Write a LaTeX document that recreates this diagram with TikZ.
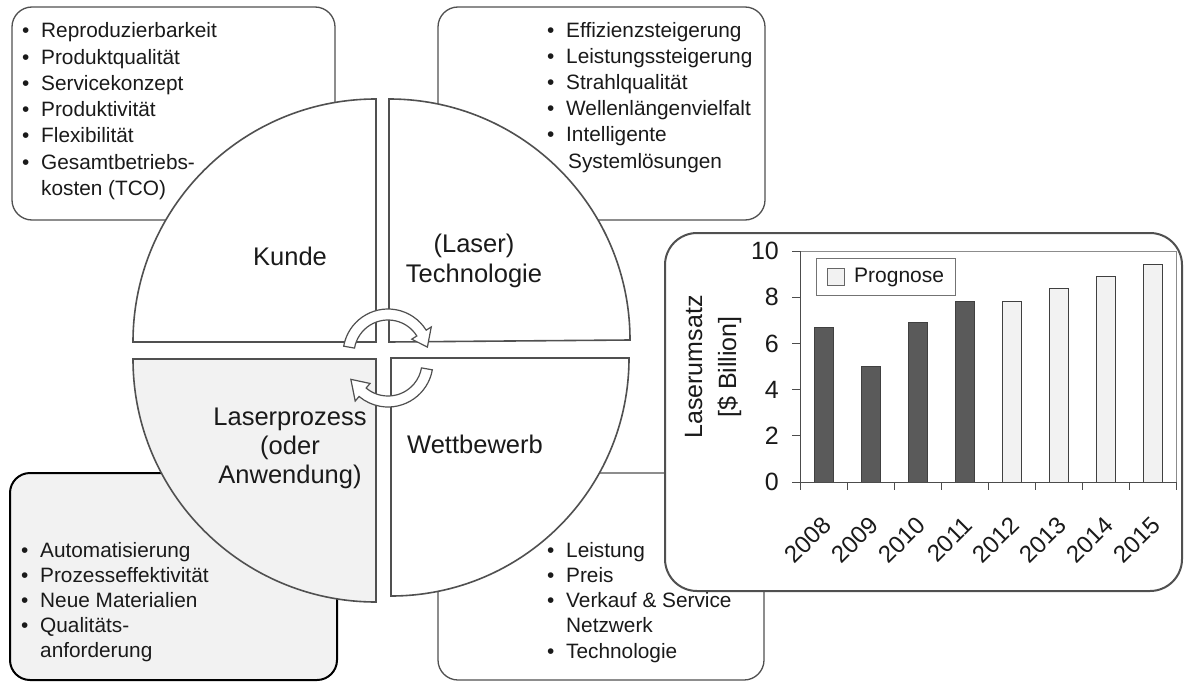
\documentclass[tikz,border=0pt]{standalone}
\usepackage{fontspec}
\setmainfont{Liberation Sans}
\usetikzlibrary{calc}
\definecolor{txt}{HTML}{1A1A1A}
\definecolor{lgray}{HTML}{F2F2F2}
\definecolor{dbar}{HTML}{5A5A5A}
\definecolor{edge}{HTML}{505050}
\newcommand\Bu{\makebox[19pt][l]{•}}
\newcommand\Co{\hspace*{19pt}}
\begin{document}
\begin{tikzpicture}[x=1pt,y=-1pt,
  box/.style={draw=edge, line width=1.3pt, rounded corners=20pt, fill=white},
  lst/.style={font=\fontsize{20.8}{26}\selectfont, text=txt, inner sep=0pt, anchor=base west},
  quad/.style={draw=edge, line width=1.6pt, line join=miter},
  qlabel/.style={font=\fontsize{25.5}{30}\selectfont, text=txt, inner sep=0pt, anchor=base},
  carrow/.style={draw=edge, line width=1.2pt, fill=white, line join=miter},
  chartbox/.style={draw=edge, line width=2pt, rounded corners=32pt, fill=white},
  darkbar/.style={draw=black!75, line width=0.9pt, fill=dbar},
  lightbar/.style={draw=black!75, line width=0.9pt, fill=lgray},
  axis/.style={draw=black!70, line width=1pt},
  clbl/.style={font=\fontsize{25}{30}\selectfont, text=txt, inner sep=0pt},
  yrlbl/.style={font=\fontsize{24}{28}\selectfont, text=txt, inner sep=0pt, rotate=45, anchor=east}
]
\useasboundingbox (0,0) rectangle (1196,682);
\fill[white] (0,0) rectangle (1196,682);

% ---------- boxes ----------
\path[box] (12,7) rectangle (335,220);
\path[box] (438,7) rectangle (765,220);
\path[box, fill=lgray, draw=black, line width=2pt] (10,473) rectangle (337,680);
\path[box] (438,473) rectangle (764,680);

% ---------- circle quadrants ----------
\path[quad, fill=white] (376,342) -- (133,342) arc[start angle=180, end angle=270, radius=243] -- cycle;
\path[quad, fill=white] (389,342) -- (389,99) arc[start angle=270, end angle=360, radius=241] -- cycle;
\path[quad, fill=lgray] (376,359) -- (376,602) arc[start angle=90, end angle=180, radius=243] -- cycle;
\path[quad, fill=white] (391,358) -- (629,358) arc[start angle=0, end angle=90, radius=238] -- cycle;

% ---------- quadrant labels ----------
\node[qlabel] (kunde) at (290,265) {Kunde};
\node[qlabel] (laser) at (474,252) {(Laser)};
\node[qlabel] (techn) at (474,282) {Technologie};
\node[qlabel] (lproz) at (290,425) {Laserprozess};
\node[qlabel] (oder) at (290,454) {(oder};
\node[qlabel] (anw) at (290,483) {Anwendung)};
\node[qlabel] (wettb) at (475,453) {Wettbewerb};

% ---------- circular arrows ----------
\coordinate (ca) at (388,354);
\coordinate (cb) at (388,362);
\path[carrow] ($(ca)+(190:45)$) arc[start angle=190, end angle=328, radius=45]
  -- ($(ca)+(328:51)$) -- ($(ca)+(350:40)$) -- ($(ca)+(328:28)$) -- ($(ca)+(328:34)$)
  arc[start angle=328, end angle=190, radius=34] -- cycle;
\path[carrow] ($(cb)+(10:45)$) arc[start angle=10, end angle=130, radius=45]
  -- ($(cb)+(130:51)$) -- ($(cb)+(155:41)$) -- ($(cb)+(130:28)$) -- ($(cb)+(130:34)$)
  arc[start angle=130, end angle=10, radius=34] -- cycle;

% ---------- bullet lists ----------
\foreach \t [count=\i from 0] in {{\Bu Reproduzierbarkeit},{\Bu Produktqualität},{\Bu Servicekonzept},{\Bu Produktivität},{\Bu Flexibilität},{\Bu Gesamtbetriebs-},{\Co kosten (TCO)}}
  \node[lst] (tl\i) at (22,{38+26.2*\i}) {\t};
\foreach \t [count=\i from 0] in {{\Bu Effizienzsteigerung},{\Bu Leistungssteigerung},{\Bu Strahlqualität},{\Bu Wellenlängenvielfalt},{\Bu Intelligente},{\Co\hspace*{2pt}Systemlösungen}}
  \node[lst] (tr\i) at (547,{38+26*\i}) {\t};
\foreach \t [count=\i from 0] in {{\Bu Automatisierung},{\Bu Prozesseffektivität},{\Bu Neue Materialien},{\Bu Qualitäts-},{\Co anforderung}}
  \node[lst] (bl\i) at (21,{557+25.2*\i}) {\t};
\foreach \t [count=\i from 0] in {{\Bu Leistung},{\Bu Preis},{\Bu Verkauf \& Service},{\Co Netzwerk},{\Bu Technologie}}
  \node[lst] (br\i) at (547,{557+25.3*\i}) {\t};

% ---------- chart ----------
\path[chartbox] (665,233) rectangle (1182,591);
\draw[draw=black!45, line width=1pt] (800,251) -- (1176,251) -- (1176,482);
\foreach \v [count=\i from 0] in {6.7,5.0,6.9,7.8}
  \path[darkbar] ({800+47*\i+14},482) rectangle ({800+47*\i+33},{482-23.1*\v});
\foreach \v [count=\i from 4] in {7.8,8.4,8.9,9.4}
  \path[lightbar] ({800+47*\i+14},482) rectangle ({800+47*\i+33},{482-23.1*\v});
\draw[axis] (800,251) -- (800,482) -- (1176,482);
\foreach \v [count=\k from 0] in {0,2,4,6,8,10} {
  \draw[axis] (792,{482-23.1*\v}) -- (800,{482-23.1*\v});
  \node[clbl, anchor=east] (yl\k) at (779,{482-23.1*\v}) {\v};
}
\foreach \i in {0,...,8}
  \draw[axis] ({800+47*\i},482) -- ({800+47*\i},490);
\foreach \yr [count=\i from 0] in {2008,2009,2010,2011,2012,2013,2014,2015}
  \node[yrlbl] (xl\i) at ({800+47*\i+27},521) {\yr};
\node[clbl, rotate=90, align=center, font=\fontsize{25}{34}\selectfont] (ytitle) at (713,367) {Laserumsatz\\{[}\$ Billion{]}};
% legend
\draw[draw=black!55, line width=1pt, fill=white] (816,258) rectangle (955,295);
\path[lightbar, draw=black!60] (827,268) rectangle (844,285);
\node[clbl, anchor=west, font=\fontsize{21}{25}\selectfont] (leg) at (854,277) {Prognose};
\end{tikzpicture}
\end{document}
